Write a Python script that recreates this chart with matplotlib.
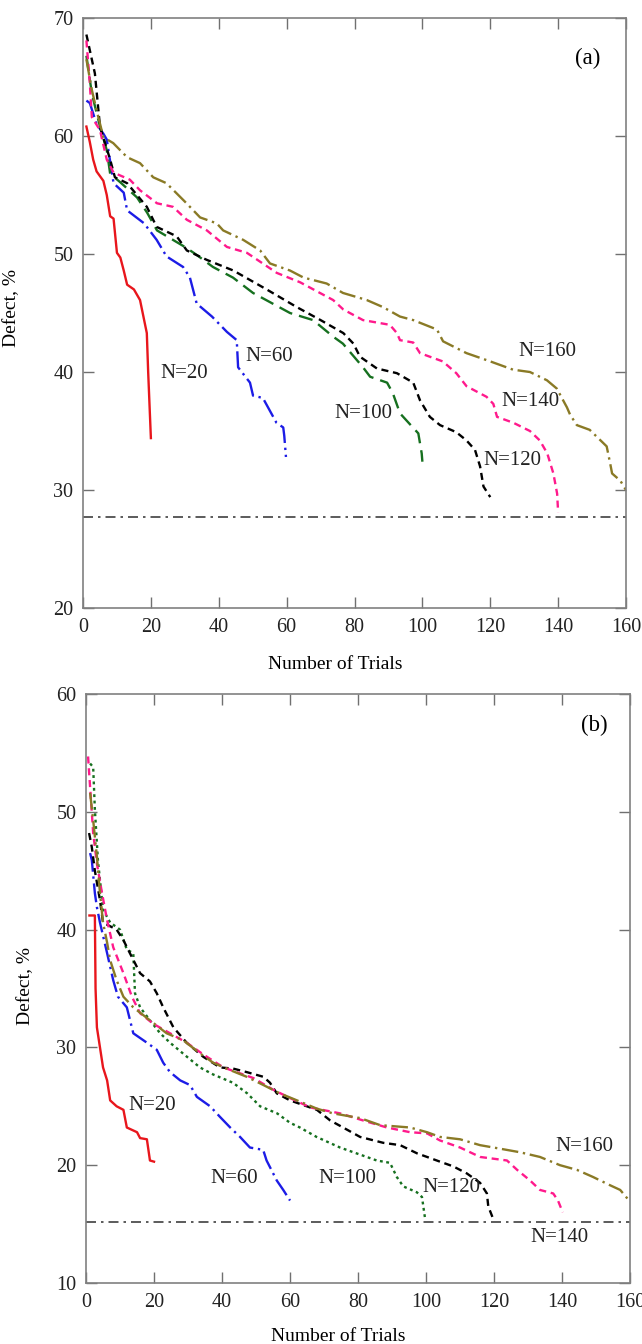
import matplotlib.pyplot as plt

plt.rcParams['font.family'] = ['Liberation Serif', 'DejaVu Serif']

# ---- panel (a) ----
a_x20 = [1, 2, 3, 4, 6, 7, 8, 9, 10, 11, 12, 13, 15, 16, 16.8, 18.8, 19.2, 20]
a_y20 = [60.8, 59.5, 58, 57, 56.2, 55, 53.2, 53, 50.1, 49.7, 48.6, 47.4, 47, 46.5, 46.1, 43.3, 40, 34.4]

a_x60 = [1, 2, 4, 6, 7, 9, 12, 13, 18, 21.7, 24.6, 29.5, 31.5, 33.5, 38, 42.4, 45.3, 45.7,
         49.2, 50.1, 53, 57, 59, 59.3, 59.8]
a_y60 = [63, 62.8, 61, 60.2, 59.7, 56, 55.2, 53.7, 52.6, 51.2, 49.8, 48.9, 48, 45.8, 44.7, 43.4,
         42.7, 40.4, 39.1, 38, 37.8, 35.7, 35.3, 34.6, 32.8]

a_x100 = [1, 2.6, 5, 7, 8, 10.9, 15.9, 18.9, 21.8, 30.6, 33.6, 38.3, 44.2, 50.1, 61, 67.8, 73.7,
          76.6, 82.5, 84.6, 89.6, 91.3, 93.4, 97.2, 98.8, 99.8, 100]
a_y100 = [66.8, 63.6, 60.8, 58.8, 56.8, 56.1, 54.8, 53.5, 52, 50.5, 49.9, 48.9, 48, 46.7, 45, 44.4,
          43, 42.4, 40.4, 39.6, 39.1, 38.2, 36.5, 35.3, 34.8, 33.1, 32.4]

a_x120 = [1, 3.5, 5, 8, 9.4, 13, 18.8, 21.7, 27.6, 30.6, 36.5, 44.3, 54.1, 63, 70, 76.7, 79.7,
          81.6, 86.6, 92.5, 97.3, 99.3, 102.2, 105.2, 110, 113, 115.5, 117, 118, 120]
a_y120 = [68.6, 65.3, 60.8, 58, 56.5, 56, 54, 52.3, 51.5, 50.3, 49.5, 48.6, 47, 45.5, 44.4, 43.3,
          42.4, 41.3, 40.3, 39.9, 39.1, 37.6, 36.2, 35.5, 34.9, 34.2, 33.4, 32, 30.3, 29.4]

a_x140 = [1, 2, 2.6, 5, 7, 9, 13.8, 16.8, 21.8, 26.5, 30.6, 36.5, 42.4, 48.3, 57.1, 64, 73.7,
          76.7, 82.5, 90.4, 92.5, 93.4, 97.3, 99.3, 106, 110, 113, 118.9, 120.9, 122, 126.8,
          131.7, 134.6, 136.8, 138.6, 139.7, 140]
a_y140 = [68.1, 64.5, 61.6, 60.5, 58, 56.9, 56.3, 55.4, 54.3, 54, 52.9, 52, 50.6, 50.1, 48.4,
          47.6, 46.1, 45.3, 44.4, 44, 43.3, 42.7, 42.5, 41.6, 40.9, 39.9, 38.8, 37.9, 37.3,
          36.2, 35.7, 35, 34.2, 33.1, 31.4, 29.7, 28.1]

a_x160 = [1, 2.6, 4, 6, 8.9, 13, 16.8, 20.7, 24.6, 30.5, 34.5, 39.4, 41.3, 47.2, 52.2, 55.1, 61,
          65, 71.8, 76.6, 83.6, 88.4, 93.4, 97.3, 104.3, 106.1, 113, 120, 126.7, 131.7, 136.7,
          139.6, 142.6, 143.5, 145.5, 149.3, 154.3, 155.3, 155.9, 158.3, 160]
a_y160 = [66.5, 63.9, 62.2, 59.9, 59.4, 58.2, 57.7, 56.5, 56, 54.3, 53.1, 52.6, 52, 51.2, 50.3,
          49.2, 48.6, 48, 47.5, 46.7, 46.1, 45.5, 44.7, 44.4, 43.6, 42.6, 41.6, 40.9, 40.2, 40,
          39.3, 38.6, 37, 36.4, 35.5, 35.1, 33.7, 32.3, 31.4, 30.8, 30]

a_ref = 27.7

# ---- panel (b) ----
b_x20 = [1, 2.6, 2.8, 3.2, 4.1, 5, 6.2, 7.1, 9, 11, 12, 15, 15.9, 17.9, 18.8, 20]
b_y20 = [41.2, 41.2, 35, 31.7, 30, 28.3, 27.2, 25.5, 25, 24.7, 23.2, 22.8, 22.3, 22.2, 20.4, 20.3]

b_x60 = [1.2, 1.7, 2.6, 3.2, 4.1, 6.2, 8, 9.4, 12, 13.9, 17.9, 20.8, 22.7, 24.7, 27.7, 30.6, 32.6,
         36.5, 39.4, 42.4, 45.3, 48.2, 52.1, 53.1, 56.1, 58, 60]
b_y60 = [46.5, 45.9, 43.1, 41.9, 40.6, 38, 35.7, 34.3, 33.4, 31.2, 30.4, 29.8, 28.7, 27.9, 27.2,
         26.8, 25.8, 25, 24.1, 23.2, 22.4, 21.5, 21.3, 20.4, 18.7, 17.9, 17]

b_x100 = [1.2, 2.1, 2.6, 3.5, 5, 7.1, 10, 12, 13.9, 14.4, 15.9, 18.8, 21.8, 24.7, 29.7, 33.5, 37.4,
          43.2, 47.4, 51.2, 56.2, 60, 62.9, 67.8, 74.7, 79.6, 85.5, 89.4, 91.4, 93.3, 97.3, 98.8,
          99.7]
b_y100 = [54.1, 53.8, 50.2, 45.9, 41.7, 40.6, 40, 38.3, 38, 34.6, 33.4, 32.3, 31.2, 30.4, 29.2,
          28.3, 27.7, 27, 26.1, 25, 24.4, 23.6, 23.2, 22.4, 21.5, 21, 20.4, 20.2, 19, 18.2, 17.7,
          17.3, 15.5]

b_x120 = [0.9, 1.7, 2.6, 4.1, 5, 9, 11, 12.9, 15.9, 18.8, 20.8, 22.7, 25.7, 29.6, 34.5, 39.4,
          43.3, 47.3, 52.2, 54.1, 56.1, 60, 67.9, 71.8, 75.6, 80.6, 87.4, 92.4, 97.4, 100.3,
          104.1, 108, 112, 115.9, 117.9, 118.3, 119.8]
b_y120 = [48.2, 47, 45, 42.5, 40.6, 40, 39.1, 38, 36.3, 35.6, 34.6, 33.4, 31.7, 30.4, 29.2, 28.3,
          28.2, 27.9, 27.5, 27, 26.1, 25.5, 24.7, 23.8, 23.2, 22.4, 21.9, 21.7, 21, 20.7, 20.3,
          19.9, 19.3, 18.5, 17.6, 16.5, 15.4]

b_x140 = [0.6, 1.2, 2.1, 3.2, 4.7, 6.2, 8, 11, 13.5, 15.9, 19.8, 24.7, 29.6, 34.5, 40.4, 44.3,
          49.2, 55.1, 60, 66, 74.7, 82.6, 88.5, 95.3, 100.3, 104.1, 110, 115.9, 123.8, 126.8,
          130.6, 133.5, 137.4, 138.8, 140.2]
b_y140 = [54.7, 52.1, 48.2, 45.6, 43.1, 40.8, 38.5, 36.3, 34.3, 32.9, 32, 31.2, 30.4, 29.4, 28.3,
          27.9, 27.4, 26.4, 25.7, 24.9, 24.4, 23.7, 23.2, 22.8, 22.7, 22.1, 21.5, 20.7, 20.4,
          19.6, 18.7, 17.9, 17.6, 17, 16]

b_x160 = [1.2, 2.1, 3.2, 4.1, 5, 6.2, 7.1, 9, 11, 13.9, 18.8, 23.7, 28.6, 33.5, 37.4, 41.3, 47.3,
          52.2, 57, 62.9, 67.9, 72.6, 80.6, 86.5, 95.3, 100.3, 104.1, 110, 115.9, 121.8, 127.6,
          133.5, 139.4, 144.4, 149.1, 154.1, 157.1, 160]
b_y160 = [51.6, 49.3, 46.2, 43.1, 40.6, 38.9, 37.4, 35.7, 34.3, 33.4, 32.3, 31.2, 30.6, 29.5,
          28.7, 28.2, 27.5, 26.8, 26.1, 25.4, 24.8, 24.4, 24, 23.4, 23.2, 22.8, 22.4, 22.2, 21.7,
          21.4, 21.1, 20.7, 20, 19.6, 19, 18.3, 17.9, 16.9]

b_ref = 15.2

# label text positions (data coords)
a_labels = [("N=20", 22.7, 39.9), ("N=60", 47.7, 41.3), ("N=100", 74.2, 36.5),
            ("N=120", 117.9, 32.5), ("N=140", 123.4, 37.5), ("N=160", 128.2, 41.7)]
b_labels = [("N=20", 12.4, 25.1), ("N=60", 36.5, 18.9), ("N=100", 68.2, 18.9),
            ("N=120", 98.8, 18.1), ("N=140", 130.6, 13.9), ("N=160", 137.9, 21.6)]

RED = '#e8161c'
BLUE = '#1c1ce6'
GREEN = '#16701f'
BLACK = '#000000'
PINK = '#ff1a8c'
OLIVE = '#8a7a26'
REFC = '#404040'

fig = plt.figure(figsize=(6.42, 13.44), dpi=100)
ax_a = fig.add_axes([0.1293, 0.5476, 0.8458, 0.439])
ax_b = fig.add_axes([0.134, 0.0454, 0.8474, 0.4382])


def style_axes(ax, ylo, yhi):
    ax.set_xlim(0, 160)
    ax.set_ylim(ylo, yhi)
    ax.set_xticks(range(0, 161, 20))
    ax.set_yticks(range(ylo, yhi + 1, 10))
    ax.tick_params(direction='in', length=8, width=1, color='#707070',
                   top=True, right=True, labelsize=14.5, pad=7, labelcolor='#222222')
    for sp in ax.spines.values():
        sp.set_color('#808080')
        sp.set_linewidth(1.2)


lw = 1.7

# panel (a)
ax = ax_a
ax.plot(a_x20, a_y20, color=RED, lw=lw, linestyle='-')
ax.plot(a_x60, a_y60, color=BLUE, lw=lw, dashes=(8, 2, 1, 2))
ax.plot(a_x100, a_y100, color=GREEN, lw=lw, dashes=(6, 3))
ax.plot(a_x120, a_y120, color=BLACK, lw=lw, dashes=(3, 2))
ax.plot(a_x140, a_y140, color=PINK, lw=lw, dashes=(3, 2))
ax.plot(a_x160, a_y160, color=OLIVE, lw=lw, dashes=(7, 2, 1, 2))
ax.axhline(a_ref, color=REFC, lw=1.2, dashes=(6, 3, 1.5, 3))
for txt, x, y in a_labels:
    ax.text(x, y, txt, fontsize=15, ha='left', va='center', color='#222222')
ax.text(0.952, 0.932, "(a)", transform=ax.transAxes, fontsize=16.5, ha='right', va='center')
style_axes(ax, 20, 70)
ax.set_xlabel("Number of Trials", fontsize=14)
ax.xaxis.set_label_coords(0.464, -0.082)
ax.set_ylabel("Defect, %", fontsize=14)
ax.yaxis.set_label_coords(-0.115, 0.508)

# panel (b)
ax = ax_b
ax.plot(b_x20, b_y20, color=RED, lw=lw, linestyle='-')
ax.plot(b_x60, b_y60, color=BLUE, lw=lw, dashes=(8, 2, 1, 2))
ax.plot(b_x100, b_y100, color=GREEN, lw=lw, dashes=(1.2, 1.5))
ax.plot(b_x120, b_y120, color=BLACK, lw=lw, dashes=(3, 2))
ax.plot(b_x140, b_y140, color=PINK, lw=lw, dashes=(3, 2))
ax.plot(b_x160, b_y160, color=OLIVE, lw=lw, dashes=(7, 2, 1, 2))
ax.axhline(b_ref, color=REFC, lw=1.2, dashes=(6, 3, 1.5, 3))
for txt, x, y in b_labels:
    ax.text(x, y, txt, fontsize=15, ha='left', va='center', color='#222222')
ax.text(0.958, 0.947, "(b)", transform=ax.transAxes, fontsize=16.5, ha='right', va='center')
style_axes(ax, 10, 60)
ax.set_xlabel("Number of Trials", fontsize=14)
ax.xaxis.set_label_coords(0.463, -0.076)
ax.set_ylabel("Defect, %", fontsize=14)
ax.yaxis.set_label_coords(-0.095, 0.504)

fig.savefig("out.png", dpi=100, facecolor='white')
